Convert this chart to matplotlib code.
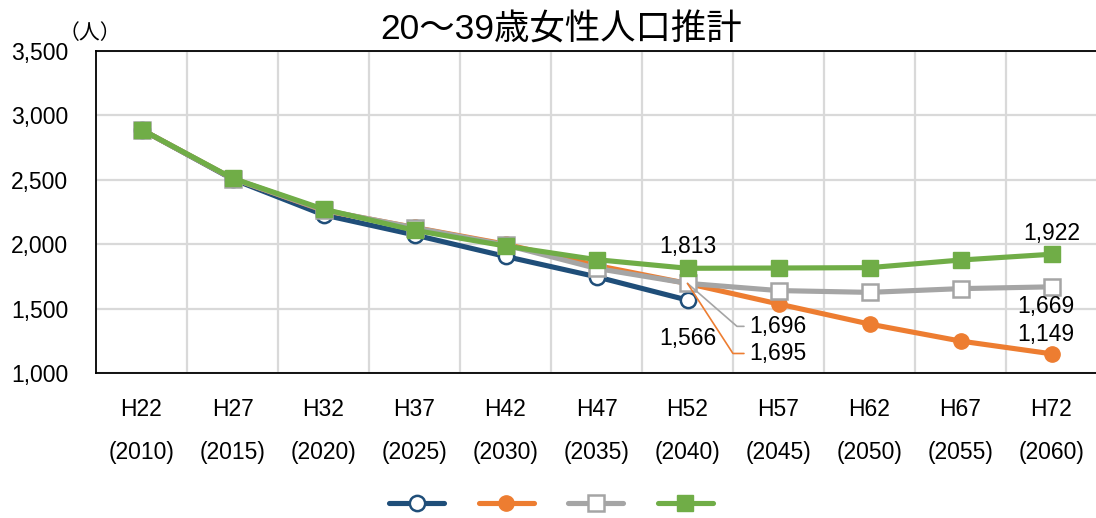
import matplotlib
matplotlib.use("Agg")
import matplotlib.pyplot as plt
from matplotlib.ticker import FuncFormatter, MultipleLocator

# Categories (Heisei year / Western year)
periods = ["H22", "H27", "H32", "H37", "H42", "H47", "H52", "H57", "H62", "H67", "H72"]
years = ["2010", "2015", "2020", "2025", "2030", "2035", "2040", "2045", "2050", "2055", "2060"]

# Women aged 20-39 (persons), four projection series
series_a = [2890, 2505, 2228, 2072, 1905, 1747, 1566]
series_b = [2890, 2510, 2262, 2130, 2000, 1835, 1695, 1536, 1380, 1248, 1149]
series_c = [2890, 2510, 2265, 2128, 1994, 1812, 1696, 1640, 1626, 1655, 1669]
series_d = [2890, 2512, 2272, 2108, 1986, 1880, 1813, 1815, 1818, 1877, 1922]

NUM_FONT = ["Liberation Sans", "DejaVu Sans"]
CJK_FONT = ["Liberation Sans", "Noto Sans CJK JP", "DejaVu Sans"]
FS = 16.5

fig = plt.figure(figsize=(10.96, 5.18), dpi=100)
ax = fig.add_axes([96 / 1096, 1 - 373 / 518, 1001 / 1096, 322 / 518])

x_all = list(range(len(periods)))
lw = 3.7
ms = 11

l_a, = ax.plot(x_all[:len(series_a)], series_a, color="#1f4e79", lw=lw, marker="o",
               ms=ms, mfc="white", mec="#1f4e79", mew=1.8, zorder=3,
               solid_capstyle="round")
l_b, = ax.plot(x_all, series_b, color="#ed7d31", lw=lw, marker="o",
               ms=ms, mfc="#ed7d31", mec="#ed7d31", zorder=4, solid_capstyle="round")
l_c, = ax.plot(x_all, series_c, color="#a5a5a5", lw=lw, marker="s",
               ms=ms, mfc="white", mec="#a5a5a5", mew=1.8, zorder=5,
               solid_capstyle="round")
l_d, = ax.plot(x_all, series_d, color="#70ad47", lw=lw, marker="s",
               ms=ms, mfc="#70ad47", mec="#70ad47", zorder=6, solid_capstyle="round")

ax.set_xlim(-0.5, len(periods) - 0.5)
ax.set_ylim(1000, 3500)
ax.yaxis.set_major_locator(MultipleLocator(500))
ax.yaxis.set_major_formatter(FuncFormatter(lambda v, p: f"{int(v):,}"))

ax.set_xticks(x_all)
ax.set_xticklabels([f"{p}\n\n({y})" for p, y in zip(periods, years)],
                   fontfamily=NUM_FONT, fontsize=FS, linespacing=0.92)
ax.set_xticks([i + 0.5 for i in x_all[:-1]], minor=True)
for lab in ax.get_yticklabels():
    lab.set_fontfamily(NUM_FONT)
    lab.set_fontsize(FS)

ax.tick_params(axis="both", which="both", length=0)
ax.tick_params(axis="x", pad=18)
ax.tick_params(axis="y", pad=20)

ax.grid(False)
ax.grid(axis="y", which="major", color="#d9d9d9", lw=1.6, zorder=0)
ax.grid(axis="x", which="minor", color="#d9d9d9", lw=1.6, zorder=0)
ax.set_axisbelow(True)
for s in ax.spines.values():
    s.set_color("black")
    s.set_linewidth(1.3)

# Value labels
def label(xi, val, dx, dy, **kw):
    ax.annotate(f"{val:,}", xy=(xi, val), xytext=(dx, dy), textcoords="offset pixels",
                fontfamily=NUM_FONT, fontsize=FS, color="black",
                ha=kw.pop("ha", "center"), va="center", zorder=10, **kw)

i52 = periods.index("H52")
last = len(periods) - 1
label(i52, series_d[i52], 0, 22)
label(i52, series_a[i52], 0, -38)
label(last, series_d[last], 0, 21)
label(last, series_c[last], -6, -20)
label(last, series_b[last], -6, 19)
label(i52, series_c[i52], 62, -43, ha="left",
      arrowprops=dict(arrowstyle="-", color="#a5a5a5", lw=1.2, relpos=(0, 0.5),
                      shrinkA=2, shrinkB=0,
                      connectionstyle="angle,angleA=0,angleB=-41,rad=0"))
label(i52, series_b[i52], 62, -70, ha="left",
      arrowprops=dict(arrowstyle="-", color="#ed7d31", lw=1.2, relpos=(0, 0.5),
                      shrinkA=2, shrinkB=0,
                      connectionstyle="angle,angleA=0,angleB=-57,rad=0"))

# Title and unit
fig.text(561 / 1096, 1 - 30 / 518, "20～39歳女性人口推計", fontfamily=CJK_FONT,
         fontsize=25.5, ha="center", va="center")
fig.text(90 / 1096, 1 - 33 / 518, "（人）", fontfamily=["Noto Sans CJK JP", "DejaVu Sans"],
         fontsize=15, ha="center", va="center")

# Legend (markers only)
leg = fig.legend([l_a, l_b, l_c, l_d], ["", "", "", ""], ncol=4, loc="center",
                 bbox_to_anchor=(551 / 1096, 1 - 505 / 518), frameon=False,
                 fontsize=FS, handlelength=2.4, handletextpad=0.0, columnspacing=1.5)

fig.savefig("out.png", dpi=100)
